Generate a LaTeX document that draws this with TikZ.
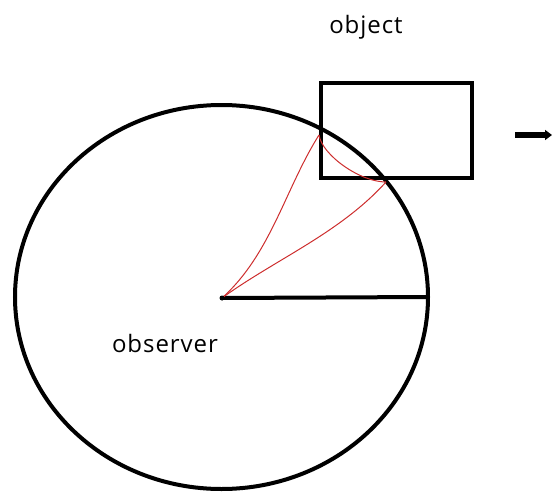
\documentclass[tikz,border=0pt]{standalone}
\usepackage{fontspec}
\usepackage{tikz}
\usetikzlibrary{arrows.meta,shapes.geometric}
\newfontfamily\lblfont{Open Sans}[LetterSpace=4]
\definecolor{sightred}{RGB}{205,45,45}
\tikzset{
  rim/.style   ={draw, line width=4pt},
  field/.style ={rim, ellipse, inner sep=0pt, outer sep=0pt},
  box/.style   ={rim, rectangle, inner sep=0pt, outer sep=0pt},
  sight/.style ={draw=sightred, line width=1pt},
  move/.style  ={-{Triangle[length=7pt, width=10pt]}, line width=6pt},
  lbl/.style   ={font=\lblfont\fontsize{24}{28}\selectfont, inner sep=0pt, anchor=base}
}
\begin{document}
\begin{tikzpicture}[x=1pt, y=-1pt]
  \useasboundingbox (0,0) rectangle (552,493);
  \coordinate (obs) at (222,298);
  \node[field, minimum width=413pt, minimum height=384pt] (view) at (221.5,297) {};
  \node[box, minimum width=151pt, minimum height=95pt] (obj) at (396.5,130.5) {};
  \coordinate (p1) at (319,135);
  \coordinate (p2) at (386,182);
  \coordinate (mv0) at (515,135);
  \coordinate (mv1) at (552,135);
  \node[lbl] (objlbl) at (366,33) {object};
  \node[lbl] (obslbl) at (165,352) {observer};
  \draw[rim] (obs) -- (view.east);
  % slightly hand-drawn sight lines
  \draw[sight] (obs) .. controls (271,254) and (285,189) .. (p1);
  \draw[sight] (obs) .. controls (276,259) and (340,233) .. (p2);
  \draw[sight] (p1) .. controls (322,155) and (360,182) .. (p2);
  \fill (obs) circle (2.5pt);
  \draw[move] (mv0) -- (mv1);
\end{tikzpicture}
\end{document}
